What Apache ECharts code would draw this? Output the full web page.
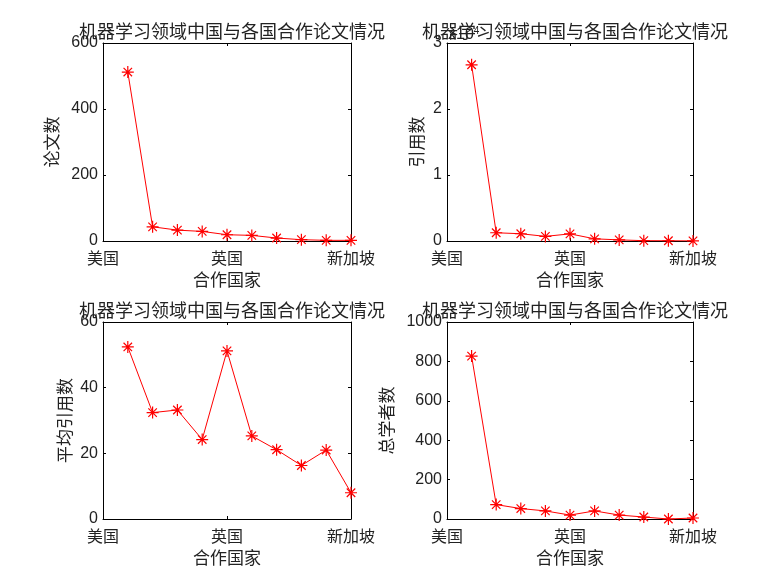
<!DOCTYPE html>
<html>
<head>
<meta charset="utf-8">
<script src="https://cdn.jsdelivr.net/npm/echarts@6/dist/echarts.min.js"></script>
<style>
  html, body { margin: 0; padding: 0; background: #fff; }
  #main { width: 779px; height: 584px; }
</style>
</head>
<body>
<div id="main"></div>
<script>
// country index 1..10 (only three tick labels are shown on the axis)
var countryIdx = [1, 2, 3, 4, 5, 6, 7, 8, 9, 10];
var xTickPos = [0, 5, 10];
var xTickLabels = ['美国', '英国', '新加坡'];

var paperCount = [512, 43, 33, 29, 19, 17, 9, 4, 2, 2];
var citeCount = [26700, 1250, 1100, 700, 1080, 330, 170, 50, 40, 15];
var avgCite = [52.4, 32.4, 33.2, 24.2, 51.2, 25.3, 21.1, 16.3, 21.0, 8.0];
var authorCount = [827, 73, 53, 41, 20, 41, 20, 10, 0, 5];

var titleText = '机器学习领域中国与各国合作论文情况';
var xName = '合作国家';

var chartDom = document.getElementById('main');
var myChart = echarts.init(chartDom);

var txt = '#222';
var fontF = '"Liberation Sans", "Noto Sans CJK SC", sans-serif';
var cjkF = '"Noto Sans CJK SC", sans-serif';
var star = 'path://M0,-6L0,6M-6,0L6,0M-4.24,-4.24L4.24,4.24M-4.24,4.24L4.24,-4.24';

var grids = [
  { left: 103, top: 43, width: 248, height: 198 },
  { left: 447, top: 43, width: 246, height: 198 },
  { left: 103, top: 322, width: 248, height: 197 },
  { left: 447, top: 322, width: 246, height: 197 }
];

var panels = [
  { yName: '论文数', data: paperCount, max: 600, interval: 200, nameGap: 43 },
  { yName: '引用数', data: citeCount, max: 30000, interval: 10000, nameGap: 22, scale: 10000 },
  { yName: '平均引用数', data: avgCite, max: 60, interval: 20, nameGap: 30 },
  { yName: '总学者数', data: authorCount, max: 1000, interval: 200, nameGap: 52 }
];

function pairs(vals) {
  return countryIdx.map(function (x, i) { return [x, vals[i]]; });
}

var option = {
  backgroundColor: '#fff',
  title: [],
  grid: [],
  xAxis: [],
  yAxis: [],
  series: []
};

panels.forEach(function (p, k) {
  var g = grids[k];
  option.grid.push({ left: g.left, top: g.top, width: g.width, height: g.height, show: false });
  option.title.push({
    text: titleText,
    left: g.left + g.width / 2,
    top: g.top - 26,
    textAlign: 'center',
    textStyle: { fontFamily: cjkF, fontSize: 18, fontWeight: 'normal', color: txt }
  });
  var tickStyle = { show: true, inside: true, length: 3, lineStyle: { color: '#000', width: 1 } };
  var lineStyle = { show: true, onZero: false, lineStyle: { color: '#000', width: 1 } };
  // bottom x axis
  option.xAxis.push({
    type: 'value', gridIndex: k, min: 0, max: 10, interval: 5, position: 'bottom',
    axisLine: lineStyle, axisTick: tickStyle, splitLine: { show: false },
    axisLabel: {
      margin: 9, color: txt, fontFamily: cjkF, fontSize: 16,
      formatter: function (v) { var j = xTickPos.indexOf(v); return j >= 0 ? xTickLabels[j] : ''; }
    },
    name: xName, nameLocation: 'middle', nameGap: 30,
    nameTextStyle: { color: txt, fontFamily: cjkF, fontSize: 17 }
  });
  // top x axis (box)
  option.xAxis.push({
    type: 'value', gridIndex: k, min: 0, max: 10, interval: 5, position: 'top',
    axisLine: lineStyle, axisTick: tickStyle, splitLine: { show: false },
    axisLabel: { show: false }
  });
  // left y axis
  option.yAxis.push({
    type: 'value', gridIndex: k, min: 0, max: p.max, interval: p.interval, position: 'left',
    axisLine: lineStyle, axisTick: tickStyle, splitLine: { show: false },
    axisLabel: {
      margin: 5, color: txt, fontFamily: fontF, fontSize: 16,
      formatter: function (v) { return p.scale ? String(v / p.scale) : String(v); }
    },
    name: p.yName, nameLocation: 'middle', nameGap: p.nameGap,
    nameTextStyle: { color: txt, fontFamily: cjkF, fontSize: 17 }
  });
  // right y axis (box)
  option.yAxis.push({
    type: 'value', gridIndex: k, min: 0, max: p.max, interval: p.interval, position: 'right',
    axisLine: lineStyle, axisTick: tickStyle, splitLine: { show: false },
    axisLabel: { show: false }
  });
  option.series.push({
    type: 'line',
    xAxisIndex: k * 2,
    yAxisIndex: k * 2,
    data: pairs(p.data),
    symbol: star,
    symbolSize: 12,
    showAllSymbol: true,
    lineStyle: { color: '#ff0000', width: 1 },
    itemStyle: { color: '#ff0000', borderColor: '#ff0000', borderWidth: 1.2 },
    emphasis: { disabled: true },
    animation: false
  });
});

// exponent label of the citation axis
option.graphic = [
  {
    type: 'text', left: 448, top: 26,
    style: {
      text: 'x10{s|4}', fill: txt, font: '16px "Liberation Sans"',
      rich: { s: { fontSize: 10, fontFamily: 'Liberation Sans', verticalAlign: 'top', padding: [0, 0, 8, 0] } }
    }
  }
];

option && myChart.setOption(option);
</script>
</body>
</html>
